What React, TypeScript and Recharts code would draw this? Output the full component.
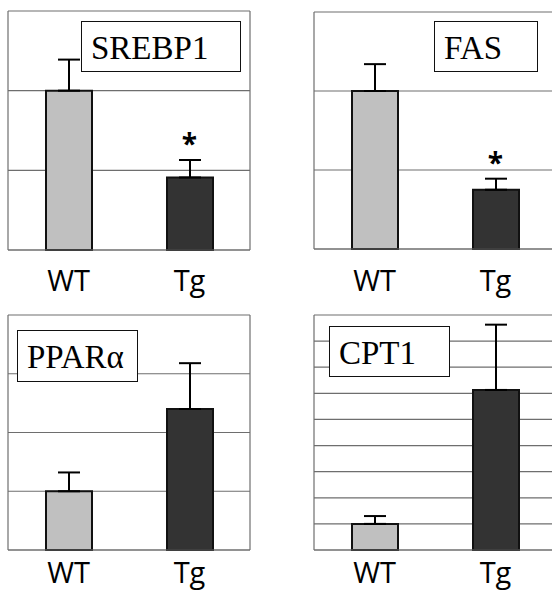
import React from 'react';
import { BarChart, Bar, XAxis, YAxis, CartesianGrid, ErrorBar, Cell, ReferenceDot } from 'recharts';

const categories = ['WT', 'Tg'];

const srebp1Values = [2.0, 0.91];
const srebp1Errors = [0.39, 0.22];
const srebp1Ticks = [0, 1, 2, 3];

const fasValues = [2.0, 0.75];
const fasErrors = [0.34, 0.14];
const fasTicks = [0, 1, 2, 3];

const pparValues = [1.0, 2.4];
const pparErrors = [0.32, 0.78];
const pparTicks = [0, 1, 2, 3, 4];

const cpt1Values = [1.0, 6.13];
const cpt1Errors = [0.3, 2.5];
const cpt1Ticks = [0, 1, 2, 3, 4, 5, 6, 7, 8, 9];

const significant = [false, true];

const barFills = ['#c0c0c0', '#333333'];
const GRID = '#6e6e6e';

type PanelProps = {
  title: string;
  values: number[];
  errors: number[];
  ticks: number[];
  stars: boolean[];
  left: number;
  top: number;
  width: number;
  height: number;
  margin: { top: number; left: number; right: number; bottom: number };
  xAxisHeight: number;
  tickMargin: number;
  box: { left: number; top: number; width: number; height: number };
};

const NoTick = () => <g />;

function Panel(p: PanelProps) {
  const data = categories.map((name, i) => ({
    name,
    value: p.values[i],
    err: [0, p.errors[i]],
  }));
  const max = p.ticks[p.ticks.length - 1];
  return (
    <>
      <div style={{ position: 'absolute', left: p.left, top: p.top }}>
        <BarChart width={p.width} height={p.height} data={data} margin={p.margin}>
          <CartesianGrid vertical={false} stroke={GRID} strokeWidth={1.2} yAxisId="l" />
          <XAxis
            dataKey="name"
            height={p.xAxisHeight}
            axisLine={{ stroke: GRID, strokeWidth: 1.2 }}
            tickLine={false}
            tickSize={0}
            tickMargin={p.tickMargin}
            interval={0}
            tick={{ fill: '#000', fontSize: 29, fontFamily: '"Open Sans", sans-serif' }}
          />
          <YAxis
            yAxisId="l"
            width={1}
            domain={[0, max]}
            ticks={p.ticks}
            interval={0}
            tick={NoTick}
            tickLine={false}
            axisLine={{ stroke: GRID, strokeWidth: 1.2 }}
          />
          <YAxis
            yAxisId="r"
            orientation="right"
            width={1}
            domain={[0, max]}
            ticks={p.ticks}
            interval={0}
            tick={NoTick}
            tickLine={false}
            axisLine={{ stroke: GRID, strokeWidth: 1.2 }}
          />
          <Bar
            dataKey="value"
            yAxisId="l"
            barSize={46}
            stroke="#111"
            strokeWidth={2}
            isAnimationActive={false}
          >
            {data.map((d, i) => (
              <Cell key={d.name} fill={barFills[i]} stroke="#111" strokeWidth={2} />
            ))}
            <ErrorBar dataKey="err" width={11} stroke="#000" strokeWidth={2} direction="y" />
          </Bar>
          {data.map((d, i) =>
            p.stars[i] ? (
              <ReferenceDot
                key={'s' + d.name}
                yAxisId="l"
                x={d.name}
                y={p.values[i] + p.errors[i]}
                r={0}
                fill="none"
                stroke="none"
                label={{
                  value: '*',
                  position: 'top',
                  offset: 6,
                  fill: '#000',
                  fontSize: 28,
                  fontWeight: 'bold',
                  fontFamily: '"Open Sans", sans-serif',
                }}
              />
            ) : null
          )}
        </BarChart>
      </div>
      <div
        style={{
          position: 'absolute',
          left: p.box.left,
          top: p.box.top,
          width: p.box.width,
          height: p.box.height,
          boxSizing: 'border-box',
          border: '1.5px solid #111',
          background: '#fff',
          fontFamily: '"Liberation Serif", "Times New Roman", serif',
          fontSize: 33,
          lineHeight: p.box.height - 3 + 'px',
          paddingLeft: 9,
          paddingTop: 2,
          color: '#000',
          whiteSpace: 'nowrap',
        }}
      >
        {p.title}
      </div>
    </>
  );
}

export default function App() {
  return (
    <div
      style={{
        position: 'absolute',
        left: 0,
        top: 0,
        width: 552,
        height: 590,
        overflow: 'hidden',
        background: '#fff',
      }}
    >
      <Panel
        title="SREBP1"
        values={srebp1Values}
        errors={srebp1Errors}
        ticks={srebp1Ticks}
        stars={significant}
        left={0}
        top={0}
        width={276}
        height={300}
        margin={{ top: 11, left: 7, right: 25, bottom: 0 }}
        xAxisHeight={50}
        tickMargin={20}
        box={{ left: 81, top: 21, width: 160, height: 51 }}
      />
      <Panel
        title="FAS"
        values={fasValues}
        errors={fasErrors}
        ticks={fasTicks}
        stars={significant}
        left={276}
        top={0}
        width={290}
        height={300}
        margin={{ top: 12, left: 37, right: 9, bottom: 0 }}
        xAxisHeight={51}
        tickMargin={21}
        box={{ left: 434, top: 21, width: 104, height: 51 }}
      />
      <Panel
        title="PPARα"
        values={pparValues}
        errors={pparErrors}
        ticks={pparTicks}
        stars={[false, false]}
        left={0}
        top={300}
        width={276}
        height={300}
        margin={{ top: 15, left: 7, right: 25, bottom: 0 }}
        xAxisHeight={50}
        tickMargin={12}
        box={{ left: 17, top: 330, width: 121, height: 52 }}
      />
      <Panel
        title="CPT1"
        values={cpt1Values}
        errors={cpt1Errors}
        ticks={cpt1Ticks}
        stars={[false, false]}
        left={276}
        top={300}
        width={290}
        height={300}
        margin={{ top: 15, left: 37, right: 9, bottom: 0 }}
        xAxisHeight={50}
        tickMargin={12}
        box={{ left: 329, top: 326, width: 121, height: 51 }}
      />
    </div>
  );
}
